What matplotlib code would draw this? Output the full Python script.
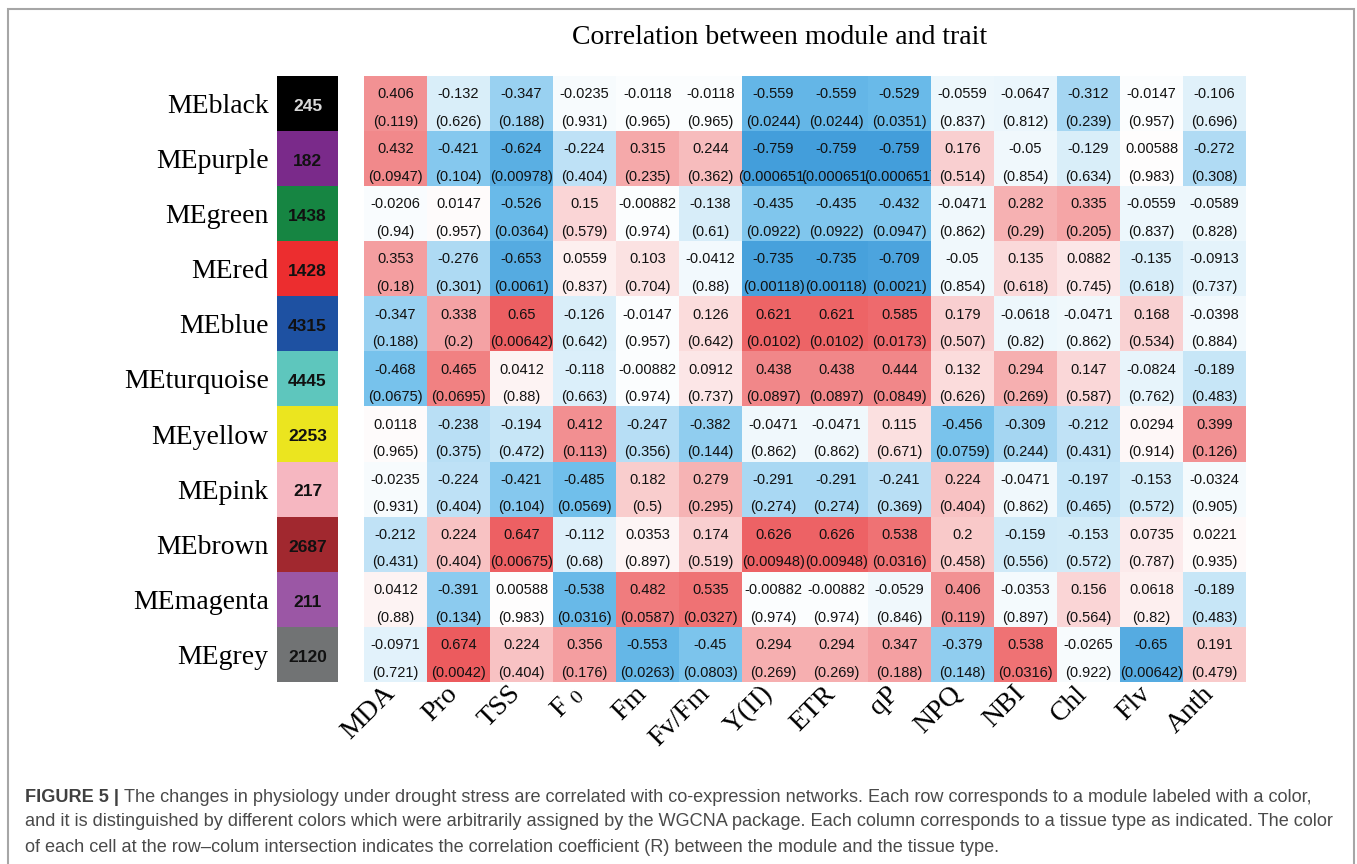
import numpy as np
import matplotlib
matplotlib.use("Agg")
import matplotlib.pyplot as plt
from matplotlib.colors import LinearSegmentedColormap, ListedColormap
from matplotlib.patches import Rectangle
from matplotlib.transforms import Bbox, TransformedBbox

plt.rcParams['mathtext.fontset'] = 'stix'

# ---- data
modules = ['MEblack', 'MEpurple', 'MEgreen', 'MEred', 'MEblue', 'MEturquoise',
           'MEyellow', 'MEpink', 'MEbrown', 'MEmagenta', 'MEgrey']
module_colors = ['#000000', '#7a2a8a', '#168542', '#ec2d2f', '#1e51a2', '#5ec6bd',
                 '#ebe51f', '#f6b7c1', '#a1282f', '#9b57a5', '#717374']
module_sizes = [245, 182, 1438, 1428, 4315, 4445, 2253, 217, 2687, 211, 2120]

traits = ['MDA', 'Pro', 'TSS', 'F $_0$', 'Fm', 'Fv/Fm', 'Y(II)', 'ETR', 'qP',
          'NPQ', 'NBI', 'Chl', 'Flv', 'Anth']

r_values = [
    [0.406, -0.132, -0.347, -0.0235, -0.0118, -0.0118, -0.559, -0.559, -0.529, -0.0559, -0.0647, -0.312, -0.0147, -0.106],
    [0.432, -0.421, -0.624, -0.224, 0.315, 0.244, -0.759, -0.759, -0.759, 0.176, -0.05, -0.129, 0.00588, -0.272],
    [-0.0206, 0.0147, -0.526, 0.15, -0.00882, -0.138, -0.435, -0.435, -0.432, -0.0471, 0.282, 0.335, -0.0559, -0.0589],
    [0.353, -0.276, -0.653, 0.0559, 0.103, -0.0412, -0.735, -0.735, -0.709, -0.05, 0.135, 0.0882, -0.135, -0.0913],
    [-0.347, 0.338, 0.65, -0.126, -0.0147, 0.126, 0.621, 0.621, 0.585, 0.179, -0.0618, -0.0471, 0.168, -0.0398],
    [-0.468, 0.465, 0.0412, -0.118, -0.00882, 0.0912, 0.438, 0.438, 0.444, 0.132, 0.294, 0.147, -0.0824, -0.189],
    [0.0118, -0.238, -0.194, 0.412, -0.247, -0.382, -0.0471, -0.0471, 0.115, -0.456, -0.309, -0.212, 0.0294, 0.399],
    [-0.0235, -0.224, -0.421, -0.485, 0.182, 0.279, -0.291, -0.291, -0.241, 0.224, -0.0471, -0.197, -0.153, -0.0324],
    [-0.212, 0.224, 0.647, -0.112, 0.0353, 0.174, 0.626, 0.626, 0.538, 0.2, -0.159, -0.153, 0.0735, 0.0221],
    [0.0412, -0.391, 0.00588, -0.538, 0.482, 0.535, -0.00882, -0.00882, -0.0529, 0.406, -0.0353, 0.156, 0.0618, -0.189],
    [-0.0971, 0.674, 0.224, 0.356, -0.553, -0.45, 0.294, 0.294, 0.347, -0.379, 0.538, -0.0265, -0.65, 0.191],
]

p_values = [
    [0.119, 0.626, 0.188, 0.931, 0.965, 0.965, 0.0244, 0.0244, 0.0351, 0.837, 0.812, 0.239, 0.957, 0.696],
    [0.0947, 0.104, 0.00978, 0.404, 0.235, 0.362, 0.000651, 0.000651, 0.000651, 0.514, 0.854, 0.634, 0.983, 0.308],
    [0.94, 0.957, 0.0364, 0.579, 0.974, 0.61, 0.0922, 0.0922, 0.0947, 0.862, 0.29, 0.205, 0.837, 0.828],
    [0.18, 0.301, 0.0061, 0.837, 0.704, 0.88, 0.00118, 0.00118, 0.0021, 0.854, 0.618, 0.745, 0.618, 0.737],
    [0.188, 0.2, 0.00642, 0.642, 0.957, 0.642, 0.0102, 0.0102, 0.0173, 0.507, 0.82, 0.862, 0.534, 0.884],
    [0.0675, 0.0695, 0.88, 0.663, 0.974, 0.737, 0.0897, 0.0897, 0.0849, 0.626, 0.269, 0.587, 0.762, 0.483],
    [0.965, 0.375, 0.472, 0.113, 0.356, 0.144, 0.862, 0.862, 0.671, 0.0759, 0.244, 0.431, 0.914, 0.126],
    [0.931, 0.404, 0.104, 0.0569, 0.5, 0.295, 0.274, 0.274, 0.369, 0.404, 0.862, 0.465, 0.572, 0.905],
    [0.431, 0.404, 0.00675, 0.68, 0.897, 0.519, 0.00948, 0.00948, 0.0316, 0.458, 0.556, 0.572, 0.787, 0.935],
    [0.88, 0.134, 0.983, 0.0316, 0.0587, 0.0327, 0.974, 0.974, 0.846, 0.119, 0.897, 0.564, 0.82, 0.483],
    [0.721, 0.0042, 0.404, 0.176, 0.0263, 0.0803, 0.269, 0.269, 0.188, 0.148, 0.0316, 0.922, 0.00642, 0.479],
]

title = 'Correlation between module and trait'
caption_head = 'FIGURE 5 | '
caption_lines = [
    'The changes in physiology under drought stress are correlated with co-expression networks. Each row corresponds to a module labeled with a color,',
    'and it is distinguished by different colors which were arbitrarily assigned by the WGCNA package. Each column corresponds to a tissue type as indicated. The color',
    'of each cell at the row\u2013colum intersection indicates the correlation coefficient (R) between the module and the tissue type.',
]

W, H = 1357, 864
fig = plt.figure(figsize=(W / 100, H / 100), dpi=100)

def fx(px):
    return px / W

def fy(py):
    return 1 - py / H

# outer frame
fig.patches.append(Rectangle((fx(8), -0.02), fx(1354) - fx(8), fy(9) + 0.02,
                             transform=fig.transFigure, fill=False,
                             edgecolor='#a6a6a6', lw=1.5))

cmap = LinearSegmentedColormap.from_list(
    'bwr_wgcna', ['#1e82cd', '#6ebeeb', '#ffffff', '#f0787a', '#e6282d'])

R = np.array(r_values)
P = np.array(p_values)
nrow, ncol = R.shape

top, bottom = 76, 682
# heatmap
ax = fig.add_axes([fx(364), fy(bottom), fx(1246) - fx(364), (bottom - top) / H])
ax.imshow(R, cmap=cmap, vmin=-1, vmax=1, aspect='auto', interpolation='nearest')
for i in range(nrow):
    for j in range(ncol):
        # text spilling over the right edge is hidden by the next cell, as in R
        clip = TransformedBbox(Bbox([[j - 2.5, i - 0.5], [j + 0.5, i + 0.5]]), ax.transData)
        t1 = ax.text(j, i - 0.17, '%.3g' % R[i, j], ha='center', va='center',
                     fontsize=10.5, family='Liberation Sans', color='#111111')
        t2 = ax.text(j, i + 0.33, '(%.3g)' % P[i, j], ha='center', va='center',
                     fontsize=10.5, family='Liberation Sans', color='#111111')
        t1.set_clip_box(clip)
        t2.set_clip_box(clip)
        t1.set_clip_on(True)
        t2.set_clip_on(True)
ax.set_xticks(range(ncol))
ax.set_xticklabels(traits, rotation=45, ha='right', va='baseline', rotation_mode='anchor',
                   fontsize=20, family='Liberation Serif')
ax.tick_params(axis='x', length=0, pad=9)
ax.set_yticks([])
for s in ax.spines.values():
    s.set_visible(False)

# module colour column
cax = fig.add_axes([fx(277), fy(bottom), fx(338) - fx(277), (bottom - top) / H])
cax.imshow(np.arange(nrow).reshape(-1, 1), cmap=ListedColormap(module_colors),
           aspect='auto', interpolation='nearest')
for i, n in enumerate(module_sizes):
    cax.text(0, i + 0.05, str(n), ha='center', va='center', fontsize=12.5,
             fontweight='bold', family='Liberation Sans',
             color='#d9d9d9' if module_colors[i] == '#000000' else '#111111')
cax.set_xticks([])
cax.set_yticks(range(nrow))
cax.set_yticklabels(modules, fontsize=20, family='Liberation Serif')
cax.tick_params(axis='y', length=0, pad=6)
for s in cax.spines.values():
    s.set_visible(False)

fig.text(fx(780), fy(38), title, ha='center', va='center', fontsize=20,
         family='Liberation Serif')

# caption
fig.canvas.draw()
renderer = fig.canvas.get_renderer()
ys = [797, 822, 848]
cap_size = 13.05
head = fig.text(fx(25), fy(ys[0]), caption_head, ha='left', va='center', fontsize=cap_size,
                fontweight='bold', family='Liberation Sans', color='#404040')
hw = head.get_window_extent(renderer).width
for k, line in enumerate(caption_lines):
    x0 = fx(25) + (hw / W if k == 0 else 0)
    fig.text(x0, fy(ys[k]), line, ha='left', va='center', fontsize=cap_size,
             family='Liberation Sans', color='#4a4a4a')

fig.savefig('out.png', dpi=100)
